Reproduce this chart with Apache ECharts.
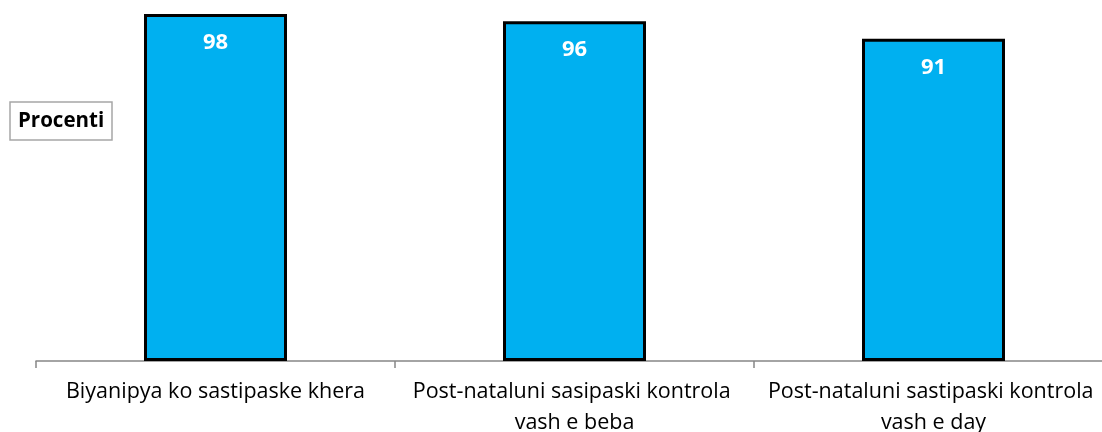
<!DOCTYPE html>
<html>
<head>
<meta charset="utf-8">
<script src="https://cdn.jsdelivr.net/npm/echarts@6/dist/echarts.min.js"></script>
<style>
  html, body { margin: 0; padding: 0; background: #fff; }
  #chart { width: 1102px; height: 432px; }
</style>
</head>
<body>
<div id="chart"></div>
<script>
var categories = [
  'Biyanipya ko sastipaske khera',
  'Post-nataluni sasipaski kontrola vash e beba',
  'Post-nataluni sastipaski kontrola vash e day'
];
var values = [98, 96, 91];
var yLabel = 'Procenti';

var chart = echarts.init(document.getElementById('chart'));
chart.setOption({
  animation: false,
  // y axis name box
  title: {
    text: yLabel,
    left: 10,
    top: 102,
    padding: [9, 8, 8, 8],
    borderColor: '#a6a6a6',
    borderWidth: 1.5,
    textStyle: {
      fontFamily: 'Open Sans',
      fontSize: 20.5,
      fontWeight: 'bold',
      color: '#000'
    }
  },
  grid: {
    left: 36,
    right: -11,
    top: 7,
    bottom: 71,
    outerBoundsMode: 'none',
    containLabel: false
  },
  xAxis: {
    type: 'category',
    data: categories,
    axisLine: { lineStyle: { color: '#868686', width: 1.5 } },
    axisTick: { show: true, length: 7, lineStyle: { color: '#868686', width: 1.5 } },
    axisLabel: {
      interval: 0,
      margin: 15,
      width: 345,
      overflow: 'break',
      lineHeight: 31,
      fontFamily: 'Open Sans',
      fontSize: 21.5,
      color: '#000'
    }
  },
  yAxis: {
    type: 'value',
    min: 0,
    max: 100,
    show: false
  },
  series: [{
    type: 'bar',
    data: values,
    barWidth: 143,
    itemStyle: {
      color: '#00B0F0',
      borderColor: '#000',
      borderWidth: 3
    },
    label: {
      show: true,
      position: 'insideTop',
      distance: 18,
      fontFamily: 'Open Sans',
      fontSize: 22,
      fontWeight: 'bold',
      color: '#fff'
    }
  }]
});
</script>
</body>
</html>
